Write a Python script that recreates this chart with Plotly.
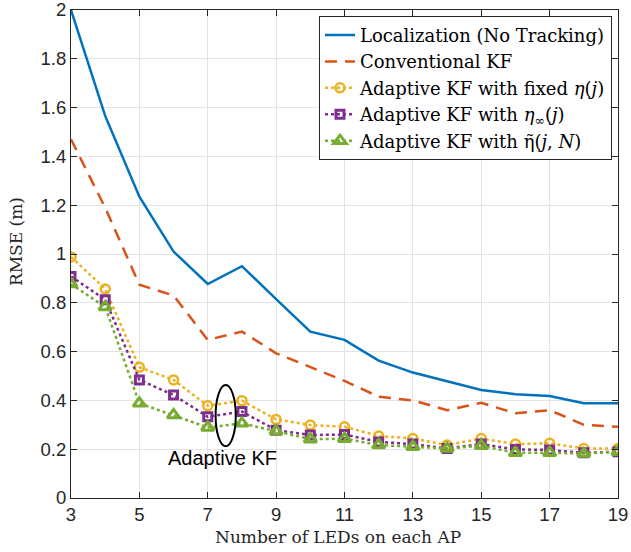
import plotly.graph_objects as go

leds = list(range(3, 20))
loc_no_track = [2.0, 1.566, 1.235, 1.01, 0.877, 0.95, 0.815, 0.682, 0.648, 0.563, 0.514, 0.477, 0.443, 0.425, 0.418, 0.388, 0.388]
conv_kf = [1.47, 1.19, 0.874, 0.83, 0.648, 0.682, 0.593, 0.538, 0.48, 0.415, 0.40, 0.36, 0.39, 0.347, 0.36, 0.30, 0.292]
akf_fixed = [0.988, 0.857, 0.536, 0.484, 0.378, 0.399, 0.322, 0.299, 0.292, 0.254, 0.244, 0.217, 0.244, 0.221, 0.224, 0.203, 0.203]
akf_inf = [0.908, 0.813, 0.484, 0.422, 0.333, 0.354, 0.278, 0.258, 0.26, 0.23, 0.221, 0.203, 0.221, 0.199, 0.197, 0.185, 0.19]
akf_tilde = [0.877, 0.783, 0.388, 0.34, 0.289, 0.306, 0.274, 0.241, 0.243, 0.217, 0.21, 0.203, 0.214, 0.185, 0.185, 0.182, 0.19]

names = [
    "Localization (No Tracking)",
    "Conventional KF",
    "Adaptive KF with fixed <i>η</i>(<i>j</i>)",
    "Adaptive KF with <i>η</i><sub>∞</sub>(<i>j</i>)",
    "Adaptive KF with η̃(<i>j</i>, <i>N</i>)",
]
x_ticks = list(range(3, 20, 2))
y_ticks = [0, 0.2, 0.4, 0.6, 0.8, 1, 1.2, 1.4, 1.6, 1.8, 2]
y_tick_labels = ["0", "0.2", "0.4", "0.6", "0.8", "1", "1.2", "1.4", "1.6", "1.8", "2"]
x_title = "Number of LEDs on each AP"
y_title = "RMSE (m)"
note = "Adaptive KF"

BLUE = "#0072BD"
RED = "#D95319"
YEL = "#EDB120"
PUR = "#7E2F8E"
GRN = "#77AC30"
SERIF = "DejaVu Serif"
SANS = "Liberation Sans"

fig = go.Figure()
fig.add_trace(go.Scatter(x=leds, y=loc_no_track, name=names[0], mode="lines",
                         line=dict(color=BLUE, width=2.5)))
fig.add_trace(go.Scatter(x=leds, y=conv_kf, name=names[1], mode="lines",
                         line=dict(color=RED, width=2.5, dash="12px,8px")))
fig.add_trace(go.Scatter(x=leds, y=akf_fixed, name=names[2], mode="lines+markers",
                         line=dict(color=YEL, width=2.5, dash="dot"),
                         marker=dict(symbol="circle-open", size=9, color=YEL, line=dict(width=2.5))))
fig.add_trace(go.Scatter(x=leds, y=akf_inf, name=names[3], mode="lines+markers",
                         line=dict(color=PUR, width=2.5, dash="dot"),
                         marker=dict(symbol="square-open", size=8, color=PUR, line=dict(width=3))))
fig.add_trace(go.Scatter(x=leds, y=akf_tilde, name=names[4], mode="lines+markers",
                         line=dict(color=GRN, width=2.5, dash="dot"),
                         marker=dict(symbol="triangle-up-open", size=11, color=GRN, line=dict(width=3))))

fig.add_shape(type="circle", xref="x", yref="y", x0=7.23, x1=7.82, y0=0.212, y1=0.463,
              line=dict(color="black", width=2))
fig.add_annotation(x=7.42, y=0.163, xref="x", yref="y", text=note, showarrow=False,
                   font=dict(family=SANS, size=20, color="black"))

# axis titles placed like the reference
fig.add_annotation(x=0.489, y=-0.056, xref="paper", yref="paper", yanchor="top", text=x_title,
                   showarrow=False, font=dict(family=SERIF, size=17, color="#262626"))
fig.add_annotation(x=-0.1, y=0.525, xref="paper", yref="paper", xanchor="center", text=y_title,
                   textangle=-90, showarrow=False, font=dict(family=SERIF, size=17, color="#262626"))

axis_common = dict(showline=True, linecolor="#262626", linewidth=1, mirror="ticks",
                   ticks="inside", ticklen=6, tickcolor="#262626", automargin=False,
                   ticklabeloverflow="allow",
                   showgrid=True, gridcolor="#E3E3E3", gridwidth=1, zeroline=False,
                   tickfont=dict(family=SANS, size=18.5, color="#262626"))

fig.update_xaxes(range=[3, 19], tickvals=x_ticks, **axis_common)
fig.update_yaxes(range=[0, 2], tickvals=y_ticks, ticktext=y_tick_labels, **axis_common)

fig.update_layout(
    width=631, height=552,
    margin=dict(l=71, r=13, t=10, b=54),
    paper_bgcolor="white", plot_bgcolor="white",
    font=dict(family=SERIF, color="black"),
    showlegend=True,
    legend=dict(x=0.989, y=0.988, xanchor="right", yanchor="top",
                bgcolor="white", bordercolor="#262626", borderwidth=1,
                font=dict(family=SERIF, size=18, color="black"),
                tracegroupgap=0, itemwidth=30),
)

fig.write_html("out.html", config={"responsive": False, "displayModeBar": False},
               post_script="document.body.style.margin='0';document.body.style.overflow='hidden';")
